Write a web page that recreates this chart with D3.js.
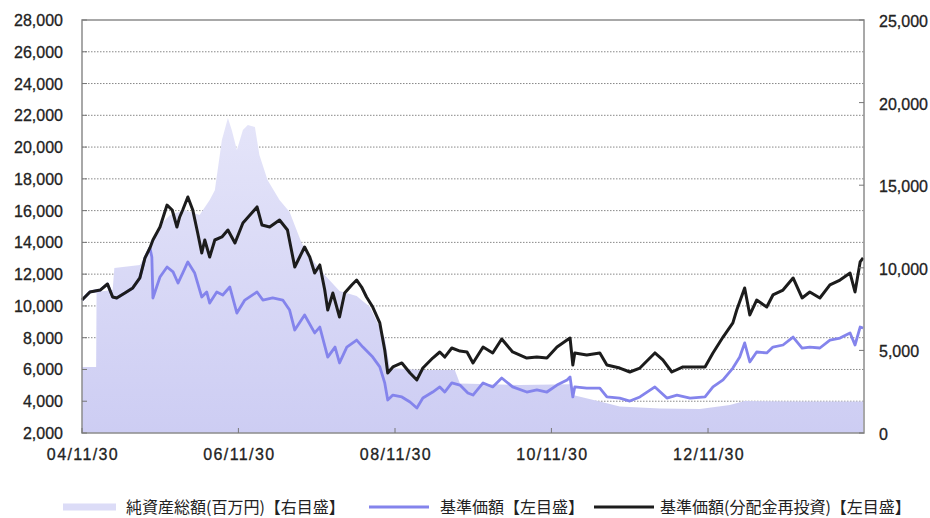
<!DOCTYPE html>
<html><head><meta charset="utf-8">
<script src="https://cdn.jsdelivr.net/npm/d3@7"></script>
<style>body{margin:0;background:#fff}svg{display:block}</style>
</head><body>
<svg id="c" width="930" height="518"></svg>
<script>
// ---------- DATA ----------
const leftTicks = [2000,4000,6000,8000,10000,12000,14000,16000,18000,20000,22000,24000,26000,28000];
const rightTicks = [0,5000,10000,15000,20000,25000];
const xTickDates = ["2004-11-30","2006-11-30","2008-11-30","2010-11-30","2012-11-30"];
const xTickLabels = ["04/11/30","06/11/30","08/11/30","10/11/30","12/11/30"];
const legendLabels = ["純資産総額(百万円)【右目盛】","基準価額【左目盛】","基準価額(分配金再投資)【左目盛】"];

// 基準価額(分配金再投資) – left axis
const reinvDates = ["2004-11-30","2005-01-06","2005-02-23","2005-03-29","2005-04-22","2005-05-11","2005-06-18","2005-07-25","2005-08-27","2005-09-20","2005-10-13","2005-10-27","2005-11-29","2006-01-01","2006-01-25","2006-02-16","2006-03-01","2006-03-15","2006-04-08","2006-05-01","2006-05-24","2006-06-12","2006-06-26","2006-07-19","2006-08-12","2006-09-14","2006-10-12","2006-11-14","2006-12-21","2007-01-23","2007-02-25","2007-03-20","2007-04-25","2007-06-10","2007-07-17","2007-08-20","2007-09-12","2007-10-05","2007-10-29","2007-11-21","2007-12-15","2008-01-07","2008-01-21","2008-02-14","2008-03-16","2008-04-09","2008-05-12","2008-06-04","2008-06-27","2008-07-20","2008-08-18","2008-09-20","2008-10-13","2008-10-27","2008-11-20","2009-01-01","2009-02-08","2009-03-12","2009-04-09","2009-05-25","2009-06-27","2009-07-20","2009-08-22","2009-09-29","2009-11-01","2009-11-29","2010-01-15","2010-03-01","2010-04-12","2010-06-02","2010-08-07","2010-09-23","2010-11-09","2010-12-26","2011-02-11","2011-02-25","2011-03-10","2011-03-19","2011-05-14","2011-07-14","2011-08-16","2011-10-15","2011-12-01","2012-01-17","2012-03-27","2012-05-03","2012-06-14","2012-08-05","2012-10-09","2012-11-16","2012-12-23","2013-02-08","2013-03-26","2013-04-13","2013-05-20","2013-06-13","2013-07-15","2013-08-31","2013-09-29","2013-11-15","2014-01-01","2014-02-12","2014-03-20","2014-05-06","2014-06-22","2014-08-08","2014-09-24","2014-10-17","2014-11-10","2014-11-24"];
const reinvValues = [10370,10880,11000,11380,10560,10500,10810,11130,11760,13020,13650,14150,14970,16350,16040,14970,15600,16040,16860,16040,14590,13330,14150,13080,14150,14340,14780,13960,15220,15720,16230,15090,14970,15410,14780,12450,13080,13710,13080,12070,12580,11000,9740,10810,9300,10810,11320,11630,11190,10560,9930,8930,7230,5780,6160,6410,5780,5340,6090,6720,7100,6780,7350,7160,7100,6410,7410,7040,7920,7100,6720,6780,6720,7410,7850,7980,6280,7040,6910,7040,6280,6090,5840,6090,7040,6600,5840,6160,6160,6160,7040,8040,8930,9740,11130,9430,10370,9930,10690,11000,11760,10500,10880,10500,11320,11630,12070,10880,12770,13020];

// 基準価額 – left axis
const navDates = ["2004-11-30","2005-01-06","2005-02-23","2005-03-29","2005-04-22","2005-05-11","2005-06-18","2005-07-25","2005-08-27","2005-09-20","2005-10-13","2005-10-22","2005-10-27","2005-11-29","2006-01-01","2006-01-29","2006-02-21","2006-03-15","2006-04-08","2006-05-10","2006-06-12","2006-07-05","2006-07-19","2006-08-21","2006-09-18","2006-10-21","2006-11-23","2006-12-30","2007-02-25","2007-03-24","2007-05-09","2007-06-25","2007-07-27","2007-08-20","2007-10-05","2007-11-21","2007-12-15","2008-01-21","2008-02-24","2008-03-16","2008-04-19","2008-06-04","2008-07-03","2008-08-18","2008-09-20","2008-10-13","2008-10-27","2008-11-20","2009-01-01","2009-02-08","2009-03-12","2009-04-09","2009-05-25","2009-06-27","2009-07-20","2009-08-22","2009-09-29","2009-11-05","2009-11-29","2010-01-15","2010-03-01","2010-04-12","2010-06-02","2010-08-07","2010-09-23","2010-11-09","2010-12-26","2011-02-11","2011-02-25","2011-03-10","2011-03-19","2011-05-14","2011-07-14","2011-08-16","2011-10-15","2011-12-01","2012-01-17","2012-03-27","2012-05-22","2012-07-08","2012-09-07","2012-11-16","2012-12-23","2013-02-08","2013-03-26","2013-04-27","2013-05-20","2013-06-13","2013-07-15","2013-08-31","2013-09-29","2013-11-15","2014-01-01","2014-02-12","2014-03-20","2014-05-06","2014-06-22","2014-08-08","2014-09-24","2014-10-17","2014-11-10","2014-11-24"];
const navValues = [10370,10880,11000,11380,10560,10500,10810,11130,11760,13020,13650,13080,10500,11820,12450,12140,11440,12070,12770,12070,10560,10880,10180,10880,10690,11190,9550,10370,10880,10370,10500,10370,9740,8480,9430,8300,8670,6780,7410,6410,7410,7850,7410,6780,6160,5150,4080,4390,4270,3950,3570,4200,4580,4900,4580,5150,5020,4520,4390,5150,4900,5460,4900,4580,4710,4580,5020,5340,5530,4270,4900,4830,4830,4270,4200,4010,4270,4900,4200,4390,4200,4270,4900,5340,6090,6780,7670,6470,7100,7040,7410,7540,8040,7350,7410,7350,7850,7980,8300,7540,8670,8610];

// 純資産総額(百万円) – right axis
const assetDates = ["2004-11-30","2005-02-04","2005-02-06","2005-04-22","2005-04-30","2005-08-27","2005-10-13","2005-11-29","2006-01-15","2006-03-24","2006-06-02","2006-07-19","2006-08-12","2006-09-14","2006-10-12","2006-10-30","2006-11-23","2006-12-21","2007-01-13","2007-02-15","2007-03-08","2007-04-15","2007-06-10","2007-07-27","2007-09-21","2007-11-21","2008-01-07","2008-03-16","2008-06-04","2008-08-05","2008-10-13","2008-11-06","2009-03-25","2009-09-05","2009-09-29","2010-07-05","2011-02-25","2011-03-10","2011-07-14","2011-10-15","2012-04-19","2012-10-23","2013-03-12","2013-05-20","2014-02-03","2014-11-24"];
const assetValues = [4000,4000,8530,8660,9990,10170,11200,12590,13200,13500,13200,14100,14700,17740,19070,18340,17130,18340,18640,18520,16830,15310,14100,13380,11500,10300,9560,8600,8300,7630,5750,3930,3810,3810,3000,2900,2950,2300,1900,1600,1480,1450,1700,1940,1900,1900];

// ---------- DRAW ----------
const parse = d3.timeParse("%Y-%m-%d");
const svg = d3.select("#c");
const L = 82, R = 864, T = 20, B = 433;
const x = d3.scaleTime().domain([parse("2004-11-30"), parse("2014-11-28")]).range([L, R]);
const yL = d3.scaleLinear().domain([2000, 28000]).range([B, T]);
const yR = d3.scaleLinear().domain([0, 25000]).range([B, T]);

const numFont = "'Liberation Sans', Arial, sans-serif";
const jpFont = "'Noto Sans CJK JP', sans-serif";
const txtCol = "#222";

const defs = svg.append("defs");
const grad = defs.append("linearGradient").attr("id", "ag")
  .attr("gradientUnits", "userSpaceOnUse").attr("x1", 0).attr("x2", 0).attr("y1", T).attr("y2", B);
grad.append("stop").attr("offset", "0%").attr("stop-color", "#ececfb");
grad.append("stop").attr("offset", "100%").attr("stop-color", "#cdcdf3");

// grid
svg.append("g").selectAll("line").data(leftTicks.slice(1, -1)).join("line")
  .attr("x1", L).attr("x2", R).attr("y1", d => yL(d)).attr("y2", d => yL(d))
  .attr("stroke", "#888").attr("stroke-width", 1).attr("stroke-dasharray", "1.5,1.5");

// area
const assets = assetDates.map((d, i) => ({ d: parse(d), v: assetValues[i] }));
svg.append("path").datum(assets)
  .attr("d", d3.area().x(p => x(p.d)).y0(B).y1(p => yR(p.v)))
  .attr("fill", "url(#ag)");

// lines
const nav = navDates.map((d, i) => ({ d: parse(d), v: navValues[i] }));
const reinv = reinvDates.map((d, i) => ({ d: parse(d), v: reinvValues[i] }));
const lineL = d3.line().x(p => x(p.d)).y(p => yL(p.v));
svg.append("path").datum(nav).attr("d", lineL).attr("fill", "none")
  .attr("stroke", "#8484ec").attr("stroke-width", 2.8).attr("stroke-linejoin", "round");
svg.append("path").datum(reinv).attr("d", lineL).attr("fill", "none")
  .attr("stroke", "#1c1c1c").attr("stroke-width", 3).attr("stroke-linejoin", "round");

// frame
svg.append("rect").attr("x", L).attr("y", T).attr("width", R - L).attr("height", B - T)
  .attr("fill", "none").attr("stroke", "#8c8c8c").attr("stroke-width", 1.5);

// ticks
svg.append("g").selectAll("line").data(leftTicks).join("line")
  .attr("x1", L).attr("x2", L + 5).attr("y1", d => yL(d)).attr("y2", d => yL(d))
  .attr("stroke", "#777");
svg.append("g").selectAll("line").data(rightTicks).join("line")
  .attr("x1", R - 5).attr("x2", R).attr("y1", d => yR(d)).attr("y2", d => yR(d))
  .attr("stroke", "#777");
svg.append("g").selectAll("line").data(xTickDates).join("line")
  .attr("x1", d => x(parse(d))).attr("x2", d => x(parse(d))).attr("y1", B).attr("y2", B - 5)
  .attr("stroke", "#777");

// labels
const fmt = d3.format(",");
svg.append("g").selectAll("text").data(leftTicks).join("text")
  .attr("x", 63).attr("y", d => yL(d) + 6).attr("text-anchor", "end")
  .attr("font-family", numFont).attr("font-size", 16).attr("fill", txtCol)
  .attr("stroke", txtCol).attr("stroke-width", 0.3)
  .text(d => fmt(d));
svg.append("g").selectAll("text").data(rightTicks).join("text")
  .attr("x", 879).attr("y", d => yR(d) + 7).attr("text-anchor", "start")
  .attr("font-family", numFont).attr("font-size", 16).attr("fill", txtCol)
  .attr("stroke", txtCol).attr("stroke-width", 0.3)
  .text(d => fmt(d));
svg.append("g").selectAll("text").data(xTickDates).join("text")
  .attr("x", d => x(parse(d)) + 1).attr("y", 460).attr("text-anchor", "middle")
  .attr("font-family", numFont).attr("font-size", 16).attr("letter-spacing", "1.4px").attr("fill", txtCol)
  .attr("stroke", txtCol).attr("stroke-width", 0.3)
  .text((d, i) => xTickLabels[i]);

// legend
const legY = 507;
const legItems = [
  { x0: 63, x1: 116, tx: 126, color: "#dcdcf7", w: 7 },
  { x0: 369, x1: 429, tx: 440, color: "#8484ec", w: 2.8 },
  { x0: 594, x1: 654, tx: 660, color: "#1c1c1c", w: 3 }
];
const lg = svg.append("g");
legItems.forEach((it, i) => {
  lg.append("line").attr("x1", it.x0).attr("x2", it.x1).attr("y1", legY).attr("y2", legY)
    .attr("stroke", it.color).attr("stroke-width", it.w);
  lg.append("text").attr("x", it.tx).attr("y", legY + 6)
    .attr("font-family", jpFont).attr("font-size", 16).attr("fill", txtCol)
    .text(legendLabels[i]);
});
</script>
</body></html>
